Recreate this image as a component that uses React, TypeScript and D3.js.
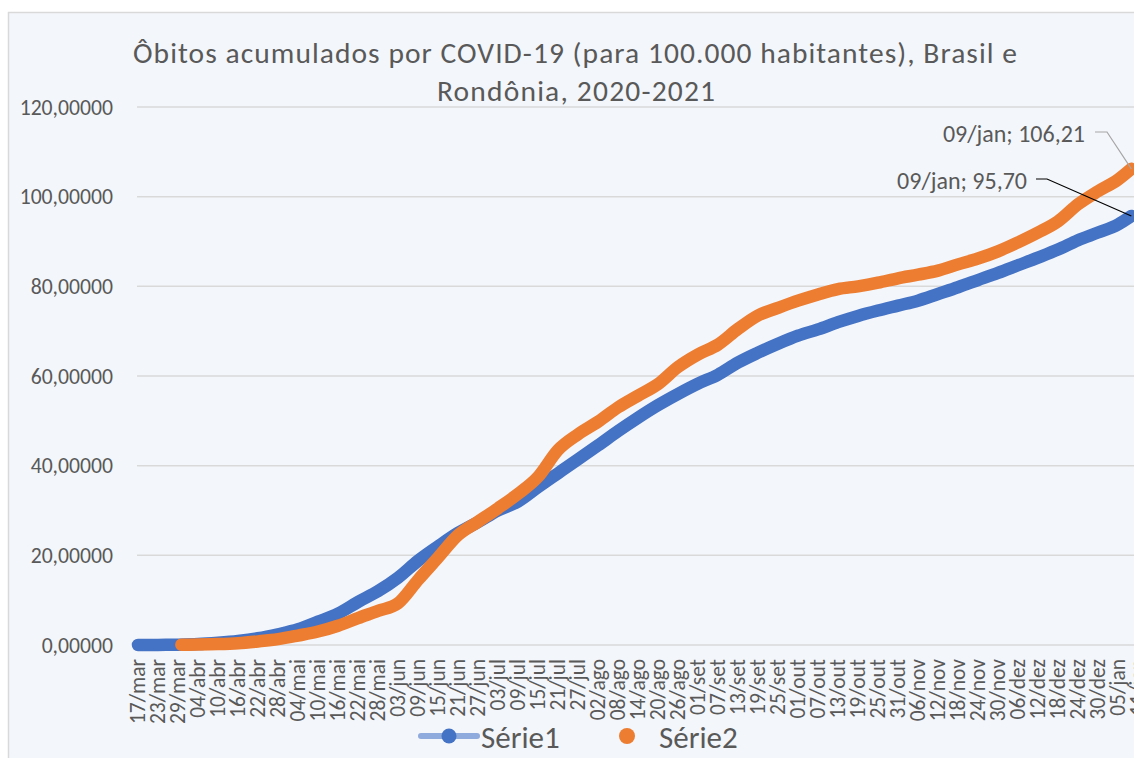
import * as d3 from 'd3';

const MONTHS_PT = ['jan', 'fev', 'mar', 'abr', 'mai', 'jun', 'jul', 'ago', 'set', 'out', 'nov', 'dez'];

const TITLE_LINES = [
  'Ôbitos acumulados por COVID-19 (para 100.000 habitantes), Brasil e',
  'Rondônia, 2020-2021',
];

const SERIES_NAMES = ['Série1', 'Série2'];

// Série1 (Brasil): readings every 6 days + last point
const SERIES1_DATES = [
  '2020-03-17', '2020-03-23', '2020-03-29', '2020-04-04', '2020-04-10', '2020-04-16', '2020-04-22', '2020-04-28',
  '2020-05-04', '2020-05-10', '2020-05-16', '2020-05-22', '2020-05-28', '2020-06-03', '2020-06-09', '2020-06-15',
  '2020-06-21', '2020-06-27', '2020-07-03', '2020-07-09', '2020-07-15', '2020-07-21', '2020-07-27', '2020-08-02',
  '2020-08-08', '2020-08-14', '2020-08-20', '2020-08-26', '2020-09-01', '2020-09-07', '2020-09-13', '2020-09-19',
  '2020-09-25', '2020-10-01', '2020-10-07', '2020-10-13', '2020-10-19', '2020-10-25', '2020-10-31', '2020-11-06',
  '2020-11-12', '2020-11-18', '2020-11-24', '2020-11-30', '2020-12-06', '2020-12-12', '2020-12-18', '2020-12-24',
  '2020-12-30', '2021-01-05', '2021-01-09',
];
const SERIES1_VALUES = [
  0.0, 0.02, 0.07, 0.2, 0.5, 0.9, 1.5, 2.4,
  3.5, 5.2, 7.0, 9.6, 12.0, 15.0, 18.8, 22.0,
  25.0, 27.4, 30.0, 32.0, 35.2, 38.3, 41.4, 44.5,
  47.7, 50.7, 53.5, 56.0, 58.3, 60.3, 63.0, 65.2,
  67.2, 69.0, 70.4, 72.0, 73.4, 74.6, 75.7, 76.8,
  78.3, 79.8, 81.4, 83.0, 84.7, 86.4, 88.2, 90.3,
  92.0, 93.8, 95.7,
];

// Série2 (Rondônia)
const SERIES2_DATES = [
  '2020-03-30', '2020-04-04', '2020-04-10', '2020-04-16', '2020-04-22', '2020-04-28',
  '2020-05-04', '2020-05-10', '2020-05-16', '2020-05-22', '2020-05-28', '2020-06-03', '2020-06-09', '2020-06-15',
  '2020-06-21', '2020-06-27', '2020-07-03', '2020-07-09', '2020-07-15', '2020-07-21', '2020-07-27', '2020-08-02',
  '2020-08-08', '2020-08-14', '2020-08-20', '2020-08-26', '2020-09-01', '2020-09-07', '2020-09-13', '2020-09-19',
  '2020-09-25', '2020-10-01', '2020-10-07', '2020-10-13', '2020-10-19', '2020-10-25', '2020-10-31', '2020-11-06',
  '2020-11-12', '2020-11-18', '2020-11-24', '2020-11-30', '2020-12-06', '2020-12-12', '2020-12-18', '2020-12-24',
  '2020-12-30', '2021-01-05', '2021-01-09',
];
const SERIES2_VALUES = [
  0.06, 0.1, 0.2, 0.4, 0.8, 1.3,
  2.1, 3.0, 4.3, 6.0, 7.6, 9.3, 14.5, 19.5,
  24.5, 27.5, 30.5, 33.7, 37.5, 43.5, 47.0, 49.8,
  53.0, 55.6, 58.2, 62.0, 64.8, 67.0, 70.5, 73.5,
  75.2, 76.8, 78.2, 79.4, 80.0, 80.8, 81.8, 82.6,
  83.5, 84.9, 86.2, 87.8, 89.8, 92.0, 94.5, 98.3,
  101.2, 103.8, 106.21,
];

const Y_TICKS = [0, 20, 40, 60, 80, 100, 120];
const X_START = '2020-03-17';
const X_END = '2021-01-11';
const TICK_STEP_DAYS = 6;

const BLUE = '#4472C4';
const BLUE_LIGHT = '#8FAADC';
const ORANGE = '#ED7D31';
const TEXT = '#595959';
const GRID = '#D9D9D9';
const FONT = "Carlito, Calibri, 'Open Sans', sans-serif";

const parse = d3.timeParse('%Y-%m-%d');
const fmtDay = d3.timeFormat('%d');
const fmtLabel = (d: Date) => `${fmtDay(d)}/${MONTHS_PT[d.getMonth()]}`;
const fmtY = (v: number) => d3.format('.5f')(v).replace('.', ',');
const fmtAnn = (v: number) => d3.format('.2f')(v).replace('.', ',');

export default function App() {
  const width = 1134;
  const height = 758;

  const x = d3.scaleTime()
    .domain([parse(X_START)!, parse(X_END)!])
    .range([138, 1138]);
  const y = d3.scaleLinear().domain([0, 120]).range([645, 107]);

  const s1 = SERIES1_DATES.map((d, i) => ({ date: parse(d)!, value: SERIES1_VALUES[i] }));
  const s2 = SERIES2_DATES.map((d, i) => ({ date: parse(d)!, value: SERIES2_VALUES[i] }));

  const line = d3.line<{ date: Date; value: number }>()
    .x(d => x(d.date))
    .y(d => y(d.value))
    .curve(d3.curveMonotoneX);

  const ticks = d3.timeDay.range(parse(X_START)!, d3.timeDay.offset(parse(X_END)!, 1), TICK_STEP_DAYS);

  const last1 = s1[s1.length - 1];
  const last2 = s2[s2.length - 1];

  return (
    <svg
      width={width}
      height={height}
      style={{ position: 'absolute', left: 0, top: 0, fontFamily: FONT }}
    >
      <rect x={0} y={0} width={width} height={height} fill="#ffffff" />
      <rect x={8.5} y={12.5} width={1300} height={900} fill="#F3F6FA" stroke={GRID} strokeWidth={1.5} />

      {/* title */}
      <text x={575} y={63} textAnchor="middle" fontSize={29.5} fill={TEXT} textLength={884} lengthAdjust="spacing">
        {TITLE_LINES[0]}
      </text>
      <text x={576} y={101} textAnchor="middle" fontSize={29.5} fill={TEXT} textLength={278} lengthAdjust="spacing">
        {TITLE_LINES[1]}
      </text>

      {/* gridlines + y labels */}
      {Y_TICKS.map(t => (
        <g key={t}>
          <line x1={137} x2={width + 10} y1={y(t)} y2={y(t)} stroke={GRID} strokeWidth={1.5} />
          <text x={113} y={y(t)} textAnchor="end" dominantBaseline="central" fontSize={21.7} fill={TEXT}>
            {fmtY(t)}
          </text>
        </g>
      ))}

      {/* x labels */}
      {ticks.map(t => (
        <text
          key={+t}
          transform={`translate(${x(t)},659) rotate(-90)`}
          textAnchor="end"
          dominantBaseline="central"
          fontSize={21.5}
          fill={TEXT}
        >
          {fmtLabel(t)}
        </text>
      ))}

      {/* series */}
      <path d={line(s1) || ''} fill="none" stroke={BLUE} strokeWidth={12.5} strokeLinecap="round" strokeLinejoin="round" />
      <path d={line(s2) || ''} fill="none" stroke={ORANGE} strokeWidth={12.5} strokeLinecap="round" strokeLinejoin="round" />

      {/* data labels */}
      <polyline
        points={`1095,132 1107,132 ${x(last2.date)},${y(last2.value)}`}
        fill="none"
        stroke="#A6A6A6"
        strokeWidth={1.2}
      />
      <text x={1085} y={133} textAnchor="end" dominantBaseline="central" fontSize={24} fill={TEXT}>
        {`09/jan; ${fmtAnn(last2.value)}`}
      </text>
      <polyline
        points={`1036,179 1047,179 ${x(last1.date)},${y(last1.value)}`}
        fill="none"
        stroke="#000000"
        strokeWidth={1.2}
      />
      <text x={1027} y={180} textAnchor="end" dominantBaseline="central" fontSize={24} fill={TEXT}>
        {`09/jan; ${fmtAnn(last1.value)}`}
      </text>

      {/* legend */}
      <line x1={421} x2={477} y1={736} y2={736} stroke={BLUE_LIGHT} strokeWidth={6} strokeLinecap="round" />
      <circle cx={449} cy={736} r={7.5} fill={BLUE} />
      <text x={481} y={737} dominantBaseline="central" fontSize={31} fill={TEXT}>{SERIES_NAMES[0]}</text>
      <circle cx={627} cy={736} r={8} fill={ORANGE} />
      <text x={659} y={737} dominantBaseline="central" fontSize={31} fill={TEXT}>{SERIES_NAMES[1]}</text>
    </svg>
  );
}
